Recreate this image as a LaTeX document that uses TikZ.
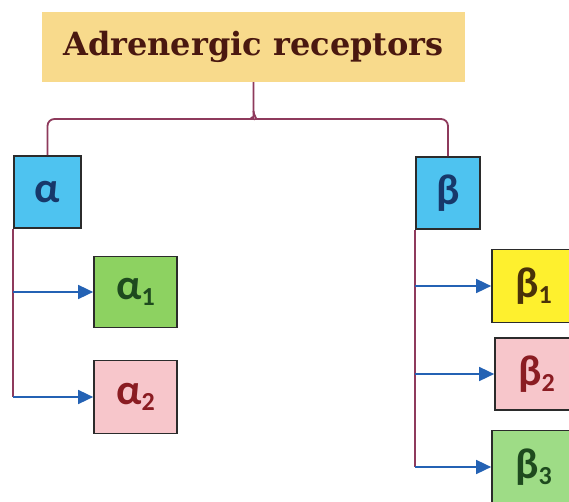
\documentclass[tikz,border=0pt]{standalone}
\usepackage{fontspec}
\setmainfont{DejaVu Serif}
\newfontfamily\greekfont{Carlito}
\usetikzlibrary{arrows.meta,calc}
\definecolor{titlefill}{HTML}{F8DA8C}
\definecolor{titletext}{HTML}{4A1810}
\definecolor{bracecol}{HTML}{8E3A5C}
\definecolor{arrowcol}{HTML}{2462B4}
\definecolor{boxline}{HTML}{2B2B2B}
\definecolor{cyanfill}{HTML}{4EC3F0}
\definecolor{greenfill}{HTML}{8DD261}
\definecolor{pinkfill}{HTML}{F7C6CB}
\definecolor{yellowfill}{HTML}{FEF02E}
\definecolor{lightgreen}{HTML}{9EDC86}
\definecolor{bluetext}{HTML}{17386A}
\definecolor{greentext}{HTML}{1E4A1E}
\definecolor{redtext}{HTML}{8A1C22}
\definecolor{browntext}{HTML}{4A3208}
\newcommand{\gsub}[2]{#1\raisebox{-0.3ex}{\fontsize{26}{26}\selectfont #2}}
\tikzset{
  recbox/.style={draw=boxline, line width=1.7pt, inner sep=0pt,
    font=\greekfont\bfseries\fontsize{43}{43}\selectfont},
  vline/.style={draw=bracecol, line width=1.8pt},
  feed/.style={draw=arrowcol, line width=1.6pt, -{Triangle[length=15pt,width=14pt]}}
}
\begin{document}
\begin{tikzpicture}[x=1pt,y=-1pt]
  \useasboundingbox (0,0) rectangle (569,502);
  \clip (0,0) rectangle (569,502);
  % heading
  \node[fill=titlefill, minimum width=423pt, minimum height=70pt, inner sep=0pt,
        text=titletext, font=\bfseries\fontsize{32}{32}\selectfont]
        (title) at (253.5,47) {Adrenergic receptors};
  % receptor classes
  \node[recbox, fill=cyanfill, text=bluetext, minimum width=67pt, minimum height=72pt]
        (a) at (47.5,192) {α};
  \node[recbox, fill=cyanfill, text=bluetext, minimum width=64pt, minimum height=72pt]
        (b) at (448,193) {β};
  % alpha subtypes
  \node[recbox, fill=greenfill, text=greentext, minimum width=83pt, minimum height=71pt]
        (a1) at (135.5,292) {\gsub{α}{1}};
  \node[recbox, fill=pinkfill, text=redtext, minimum width=83pt, minimum height=73pt]
        (a2) at (135.5,397) {\gsub{α}{2}};
  % beta subtypes
  \node[recbox, fill=yellowfill, text=browntext, minimum width=83pt, minimum height=73pt]
        (b1) at (533.5,286) {\gsub{β}{1}};
  \node[recbox, fill=pinkfill, text=redtext, minimum width=83pt, minimum height=72pt]
        (b2) at (536.5,374) {\gsub{β}{2}};
  \node[recbox, fill=lightgreen, text=greentext, minimum width=83pt, minimum height=73pt]
        (b3) at (533.5,467) {\gsub{β}{3}};
  % curly brace from the heading to both classes
  \coordinate (mid) at (title.south |- 0,119);
  \draw[vline, rounded corners=7pt]
    (title.south) -- ($(mid)+(0,-8)$) to[out=-90,in=0] ($(mid)+(-9,0)$)
    -- (a.north |- mid) -- (a.north);
  \draw[vline, rounded corners=7pt]
    ($(mid)+(0,-8)$) to[out=-90,in=180] ($(mid)+(9,0)$)
    -- (b.north |- mid) -- (b.north);
  % alpha branches
  \draw[vline] (a.south west) -- (a.south west |- a2.west);
  \draw[feed] (a.south west |- a1.west) -- (a1.west);
  \draw[feed] (a.south west |- a2.west) -- (a2.west);
  % beta branches
  \draw[vline] (b.south west) -- (b.south west |- b3.west);
  \draw[feed] (b.south west |- b1.west) -- (b1.west);
  \draw[feed] (b.south west |- b2.west) -- (b2.west);
  \draw[feed] (b.south west |- b3.west) -- (b3.west);
\end{tikzpicture}
\end{document}
